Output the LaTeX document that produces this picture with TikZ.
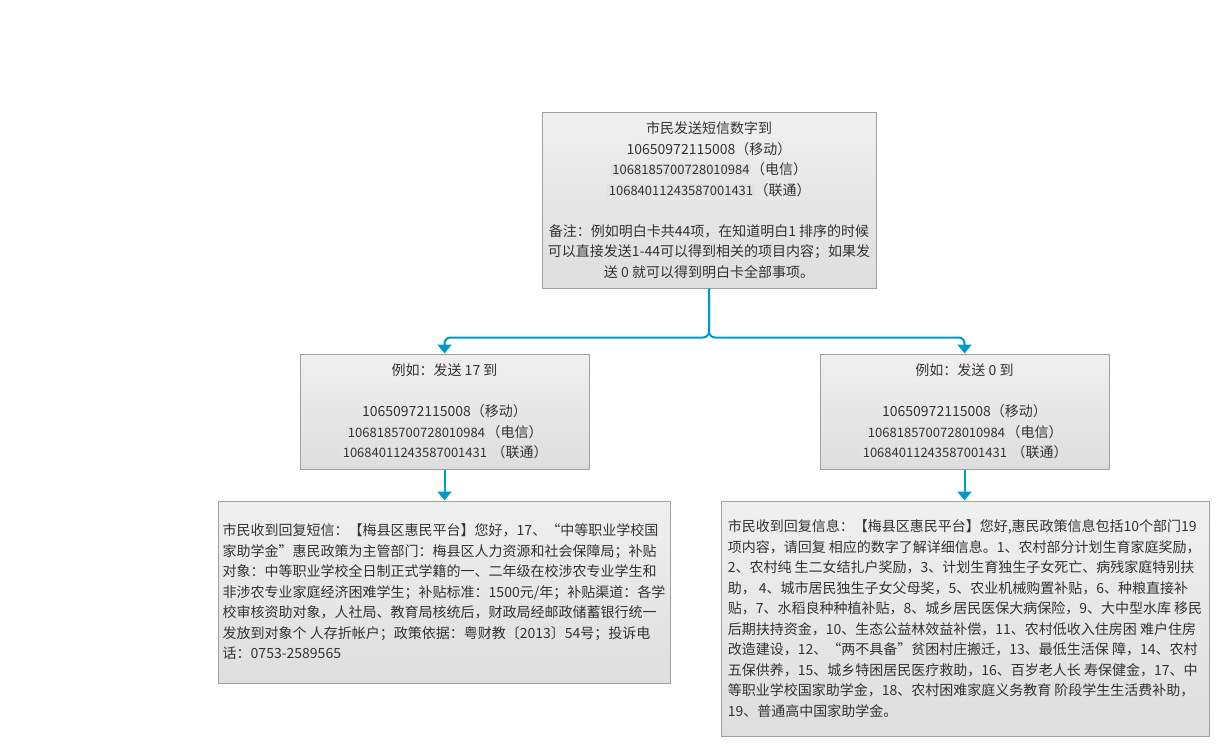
\documentclass[tikz,border=0pt]{standalone}
\usepackage{fontspec}
\setmainfont{Noto Sans CJK SC}
\usetikzlibrary{arrows.meta}
\definecolor{connc}{HTML}{0099CC}
\definecolor{bdc}{HTML}{A0A0A0}
\definecolor{txc}{HTML}{333333}
\definecolor{hlc}{HTML}{E2E2E2}
\newcommand\hlnum[1]{{\setlength\fboxsep{1.5pt}\colorbox{hlc}{\fontsize{13}{20.5}\selectfont #1}}}
\tikzset{
  box/.style={draw=bdc, line width=1pt, top color=white!94!black, bottom color=white!87!black,
    text=txc, inner sep=3pt, font=\fontsize{14}{20.5}\selectfont},
  conn/.style={draw=connc, line width=2pt, rounded corners=6pt,
    -{Triangle[width=14pt,length=9pt]}}
}
\begin{document}
\begin{tikzpicture}[x=1pt,y=-1pt]
\path[fill=white] (0,0) rectangle (1228,744);
\useasboundingbox (0,0) rectangle (1228,744);

\node[box, align=center, minimum width=334pt, minimum height=176pt] (top) at (709,200)
{市民发送短信数字到\\
10650972115008（移动）\\
\hlnum{1068185700728010984}（电信）\\
\hlnum{10684011243587001431}（联通）\\[20.5pt]
备注：例如明白卡共44项，在知道明白1 排序的时候\\
可以直接发送1-44可以得到相关的项目内容；如果发\\
送 0 就可以得到明白卡全部事项。};

\node[box, align=center, minimum width=289pt, minimum height=115pt] (ml) at (444.5,411.5)
{例如：发送 17 到\\[20.5pt]
10650972115008（移动）\\
\hlnum{1068185700728010984}（电信）\\
\hlnum{10684011243587001431} （联通）};

\node[box, align=center, minimum width=289pt, minimum height=115pt] (mr) at (964.5,411.5)
{例如：发送 0 到\\[20.5pt]
10650972115008（移动）\\
\hlnum{1068185700728010984}（电信）\\
\hlnum{10684011243587001431} （联通）};

\node[box, align=left, minimum width=452pt, minimum height=182pt] (bl) at (444,592)
{市民收到回复短信：【梅县区惠民平台】您好，17、“中等职业学校国\\
家助学金”惠民政策为主管部门：梅县区人力资源和社会保障局；补贴\\
对象：中等职业学校全日制正式学籍的一、二年级在校涉农专业学生和\\
非涉农专业家庭经济困难学生；补贴标准：1500元/年；补贴渠道：各学\\
校审核资助对象，人社局、教育局核统后，财政局经邮政储蓄银行统一\\
发放到对象个 人存折帐户；政策依据：粤财教〔2013〕54号；投诉电\\
话：0753-2589565};

\node[box, align=left, minimum width=488pt, minimum height=235pt] (br) at (965,618.5)
{市民收到回复信息：【梅县区惠民平台】您好,惠民政策信息包括10个部门19\\
项内容，请回复 相应的数字了解详细信息。1、农村部分计划生育家庭奖励，\\
2、农村纯 生二女结扎户奖励，3、计划生育独生子女死亡、病残家庭特别扶\\
助， 4、城市居民独生子女父母奖，5、农业机械购置补贴，6、种粮直接补\\
贴，7、水稻良种种植补贴，8、城乡居民医保大病保险，9、大中型水库 移民\\
后期扶持资金，10、生态公益林效益补偿，11、农村低收入住房困 难户住房\\
改造建设，12、“两不具备”贫困村庄搬迁，13、最低生活保 障，14、农村\\
五保供养，15、城乡特困居民医疗救助，16、百岁老人长 寿保健金，17、中\\
等职业学校国家助学金，18、农村困难家庭义务教育 阶段学生生活费补助，\\
19、普通高中国家助学金。};

\draw[conn] (top.south) |- ([yshift=16pt]ml.north) -- (ml.north);
\draw[conn] (top.south) |- ([yshift=16pt]mr.north) -- (mr.north);
\draw[conn] (ml.south) -- (ml.south |- bl.north);
\draw[conn] (mr.south) -- (mr.south |- br.north);
\end{tikzpicture}
\end{document}
